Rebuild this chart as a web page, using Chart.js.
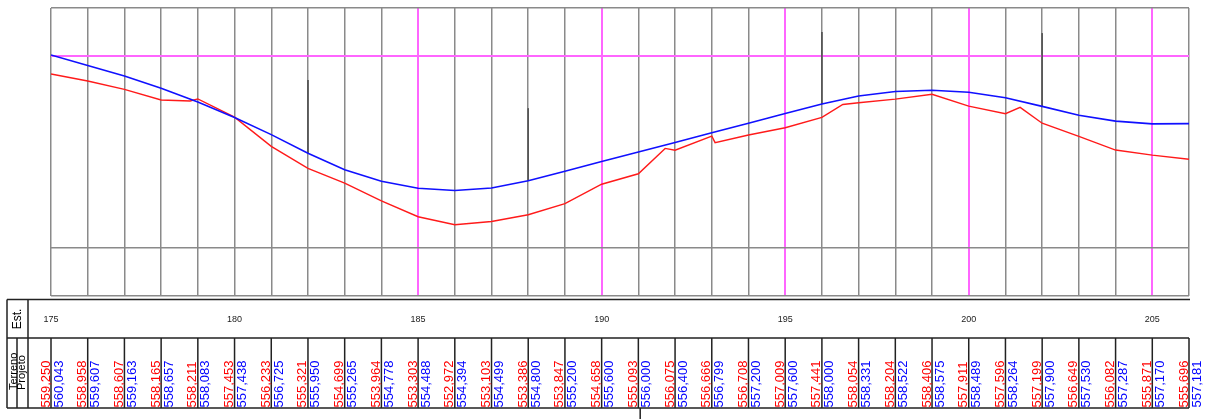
<!DOCTYPE html>
<html>
<head>
<meta charset="utf-8">
<script src="https://cdn.jsdelivr.net/npm/chart.js@4/dist/chart.umd.min.js"></script>
<style>
  html, body { margin: 0; padding: 0; background: #fff; }
  #wrap { width: 1208px; height: 419px; position: relative; }
</style>
</head>
<body>
<div id="wrap"><canvas id="perfil"></canvas></div>
<script>
var stations = [175, 176, 177, 178, 179, 180, 181, 182, 183, 184, 185, 186, 187, 188, 189, 190,
                191, 192, 193, 194, 195, 196, 197, 198, 199, 200, 201, 202, 203, 204, 205, 206];
var terreno = [559.250, 558.958, 558.607, 558.165, 558.211, 557.453, 556.233, 555.321, 554.699, 553.964,
               553.303, 552.972, 553.103, 553.386, 553.847, 554.658, 555.093, 556.075, 556.666, 556.708,
               557.009, 557.441, 558.054, 558.204, 558.406, 557.911, 557.596, 557.199, 556.649, 556.082,
               555.871, 555.696];
var projeto = [560.043, 559.607, 559.163, 558.657, 558.083, 557.438, 556.725, 555.950, 555.265, 554.778,
               554.488, 554.394, 554.499, 554.800, 555.200, 555.600, 556.000, 556.400, 556.799, 557.200,
               557.600, 558.000, 558.331, 558.522, 558.575, 558.489, 558.264, 557.900, 557.530, 557.287,
               557.170, 557.181];

// pontos intermediarios do terreno (estimados no desenho)
var terrenoExtraSt  = [178.79, 191.73, 193.09, 196.57, 201.40];
var terrenoExtraVal = [558.125, 556.15, 556.39, 557.98, 557.86];

// marcas verticais (PCV / PTV) - estaca e cota do topo
var markerSt  = [182, 188, 196, 202];
var markerTop = [559.00, 557.82, 561.00, 560.95];

var pinkStations = [185, 190, 195, 200, 205];
var labelStations = [175, 180, 185, 190, 195, 200, 205];
var yGrid = [550, 552, 560, 562];
var cursorStation = 191.05;

var FONT = '"Liberation Sans", Arial, sans-serif';
var PINK = '#ff66ff';
var GRAY = '#8a8a8a';

// Build terrain series with breaks
var terrenoPts = stations.map(function(s, i) { return { x: s, y: terreno[i] }; });
terrenoExtraSt.forEach(function(s, i) { terrenoPts.push({ x: s, y: terrenoExtraVal[i] }); });
terrenoPts.sort(function(a, b) { return a.x - b.x; });

var projetoPts = stations.map(function(s, i) { return { x: s, y: projeto[i] }; });

var datasets = [
    { label: 'Projeto', data: projetoPts, borderColor: '#1010ff', borderWidth: 1.6 },
    { label: 'Terreno', data: terrenoPts, borderColor: '#ff1a1a', borderWidth: 1.4 }
];
markerSt.forEach(function(s, i) {
    datasets.push({
        label: 'marca' + i,
        data: [{ x: s, y: markerTop[i] }, { x: s, y: projeto[stations.indexOf(s)] }],
        borderColor: '#555',
        borderWidth: 1
    });
});

// Table under the chart
var tablePlugin = {
    id: 'tabela',
    afterDraw: function(chart) {
        var c = chart.ctx;
        var xs = chart.scales.x;
        var left = 7, top = 299.5, mid = 338, bot = 408;
        var right = xs.getPixelForValue(206);
        c.save();

        // frame lines
        c.strokeStyle = '#222';
        c.lineWidth = 1.5;
        c.beginPath();
        c.moveTo(left, top); c.lineTo(right + 1, top);
        c.moveTo(left, mid); c.lineTo(right, mid);
        c.moveTo(left, bot); c.lineTo(right, bot);
        c.moveTo(left, top); c.lineTo(left, bot);
        c.moveTo(28, top); c.lineTo(28, bot);
        c.moveTo(17, mid); c.lineTo(17, bot);
        stations.forEach(function(s) {
            var px = xs.getPixelForValue(s);
            c.moveTo(px, mid); c.lineTo(px, bot);
        });
        var cx = xs.getPixelForValue(cursorStation);
        c.moveTo(cx, bot); c.lineTo(cx, 419);
        c.stroke();

        // header texts
        c.fillStyle = '#000';
        c.textAlign = 'center';
        c.textBaseline = 'middle';
        c.save();
        c.translate(17.5, 319);
        c.rotate(-Math.PI / 2);
        c.font = '12px ' + FONT;
        c.fillText('Est.', 0, 0);
        c.restore();

        c.textAlign = 'left';
        c.textBaseline = 'alphabetic';
        c.font = '11px ' + FONT;
        c.save();
        c.translate(16.5, 390);
        c.rotate(-Math.PI / 2);
        c.fillText('Terreno', 0, 0);
        c.restore();
        c.save();
        c.translate(25, 390);
        c.rotate(-Math.PI / 2);
        c.fillText('Projeto', 0, 0);
        c.restore();

        // station labels
        c.font = '9px ' + FONT;
        c.textAlign = 'center';
        c.textBaseline = 'middle';
        c.fillStyle = '#222';
        labelStations.forEach(function(s) {
            c.fillText(String(s), xs.getPixelForValue(s), 319.5);
        });

        // values
        c.font = '13px ' + FONT;
        c.textAlign = 'left';
        c.textBaseline = 'alphabetic';
        stations.forEach(function(s, i) {
            var px = xs.getPixelForValue(s);
            c.save();
            c.translate(px - 1.5, 407.5);
            c.rotate(-Math.PI / 2);
            c.fillStyle = '#ff0000';
            c.fillText(terreno[i].toFixed(3).replace('.', ','), 0, 0);
            c.restore();
            c.save();
            c.translate(px + 11.5, 407.5);
            c.rotate(-Math.PI / 2);
            c.fillStyle = '#0000ff';
            c.fillText(projeto[i].toFixed(3).replace('.', ','), 0, 0);
            c.restore();
        });
        c.restore();
    }
};

var chart = new Chart(document.getElementById('perfil'), {
    type: 'line',
    data: { datasets: datasets },
    options: {
        responsive: true,
        maintainAspectRatio: false,
        animation: false,
        layout: { padding: { left: 51, right: 19, top: 8, bottom: 123 } },
        elements: { point: { radius: 0 }, line: { tension: 0 } },
        plugins: { legend: { display: false }, tooltip: { enabled: false } },
        scales: {
            x: {
                type: 'linear',
                min: 175,
                max: 206,
                ticks: { display: false, stepSize: 1 },
                border: { display: false },
                grid: {
                    drawTicks: false,
                    color: function(ctx) {
                        return pinkStations.indexOf(ctx.tick && ctx.tick.value) >= 0 ? PINK : GRAY;
                    },
                    lineWidth: function(ctx) {
                        return pinkStations.indexOf(ctx.tick && ctx.tick.value) >= 0 ? 2 : 1.5;
                    }
                }
            },
            y: {
                type: 'linear',
                min: 550,
                max: 562,
                afterBuildTicks: function(scale) {
                    scale.ticks = yGrid.map(function(v) { return { value: v }; });
                },
                ticks: { display: false },
                border: { display: false },
                grid: {
                    drawTicks: false,
                    color: function(ctx) {
                        return ctx.tick && ctx.tick.value === 560 ? PINK : GRAY;
                    },
                    lineWidth: function(ctx) {
                        return ctx.tick && ctx.tick.value === 560 ? 2 : 1.5;
                    }
                }
            }
        }
    },
    plugins: [tablePlugin]
});
</script>
</body>
</html>
